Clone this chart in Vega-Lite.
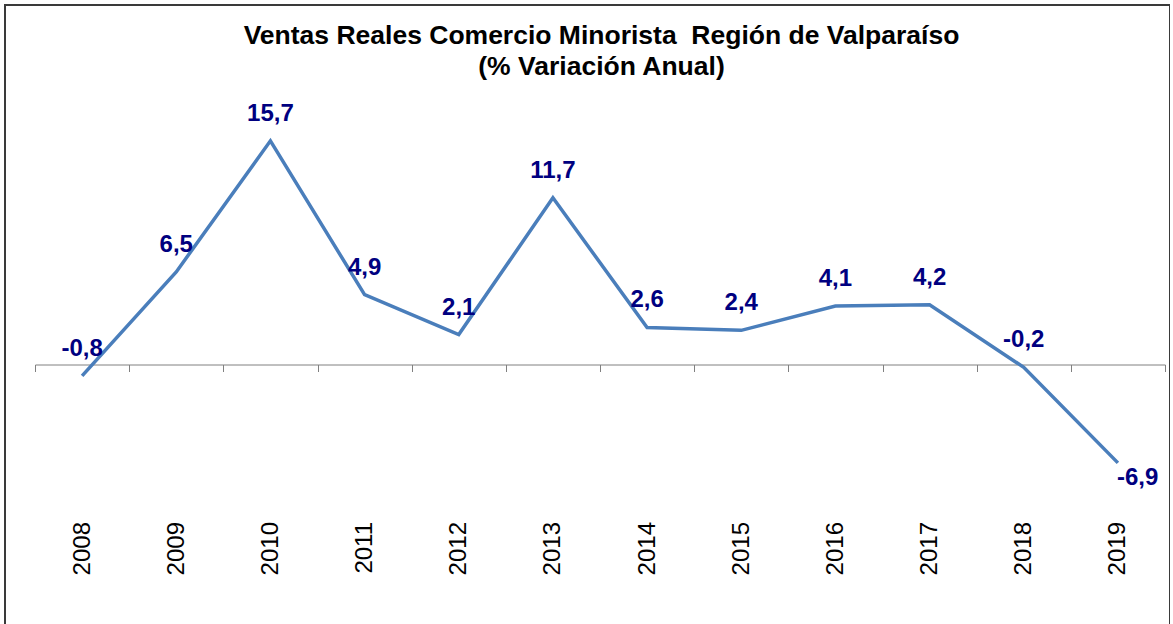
{
  "$schema": "https://vega.github.io/schema/vega-lite/v6.json",
  "autosize": {"type": "none"},
  "padding": {"left": 5, "top": 5, "right": 0, "bottom": 0},
  "width": 1165,
  "height": 630,
  "title": {
    "text": ["Ventas Reales Comercio Minorista\u00a0 Región de Valparaíso", "(% Variación Anual)"],
    "font": "Liberation Sans",
    "fontSize": 26.5,
    "fontWeight": "bold",
    "color": "#000000",
    "anchor": "middle",
    "frame": "group",
    "baseline": "top",
    "lineHeight": 31,
    "offset": -75,
    "dx": 14
  },
  "config": {
    "view": {"stroke": "#3a3a3a", "strokeWidth": 2},
    "locale": {
      "number": {"decimal": ",", "thousands": ".", "grouping": [3], "currency": ["$", ""], "minus": "-"}
    }
  },
  "data": {
    "values": [
      {"year": "2008", "value": -0.8},
      {"year": "2009", "value": 6.5},
      {"year": "2010", "value": 15.7},
      {"year": "2011", "value": 4.9},
      {"year": "2012", "value": 2.1},
      {"year": "2013", "value": 11.7},
      {"year": "2014", "value": 2.6},
      {"year": "2015", "value": 2.4},
      {"year": "2016", "value": 4.1},
      {"year": "2017", "value": 4.2},
      {"year": "2018", "value": -0.2},
      {"year": "2019", "value": -6.9}
    ]
  },
  "encoding": {
    "x": {
      "field": "year",
      "type": "ordinal",
      "scale": {"type": "band", "range": [30, 1160], "paddingInner": 0, "paddingOuter": 0},
      "axis": {
        "title": null,
        "offset": -270.5,
        "domainColor": "#808080",
        "domainWidth": 1,
        "tickColor": "#808080",
        "tickSize": 7,
        "tickBand": "extent",
        "labelAngle": -90,
        "labelAlign": "right",
        "labelBaseline": "middle",
        "labelPadding": 150,
        "labelFont": "Liberation Sans",
        "labelFontSize": 24,
        "labelColor": "#000000"
      }
    },
    "y": {
      "field": "value",
      "type": "quantitative",
      "scale": {"domain": [-18.98, 25.23], "nice": false, "zero": false},
      "axis": null
    }
  },
  "layer": [
    {
      "mark": {"type": "line", "color": "#4a7ebb", "strokeWidth": 3.5}
    },
    {
      "transform": [{"filter": "datum.year != '2019'"}],
      "mark": {"type": "text", "font": "Liberation Sans", "fontSize": 24, "fontWeight": "bold", "color": "#000080", "baseline": "alphabetic", "dy": -20},
      "encoding": {"text": {"field": "value", "type": "quantitative", "format": ".1f"}}
    },
    {
      "transform": [{"filter": "datum.year == '2019'"}],
      "mark": {"type": "text", "font": "Liberation Sans", "fontSize": 24, "fontWeight": "bold", "color": "#000080", "baseline": "alphabetic", "align": "left", "dx": -1, "dy": 22},
      "encoding": {"text": {"field": "value", "type": "quantitative", "format": ".1f"}}
    }
  ]
}
